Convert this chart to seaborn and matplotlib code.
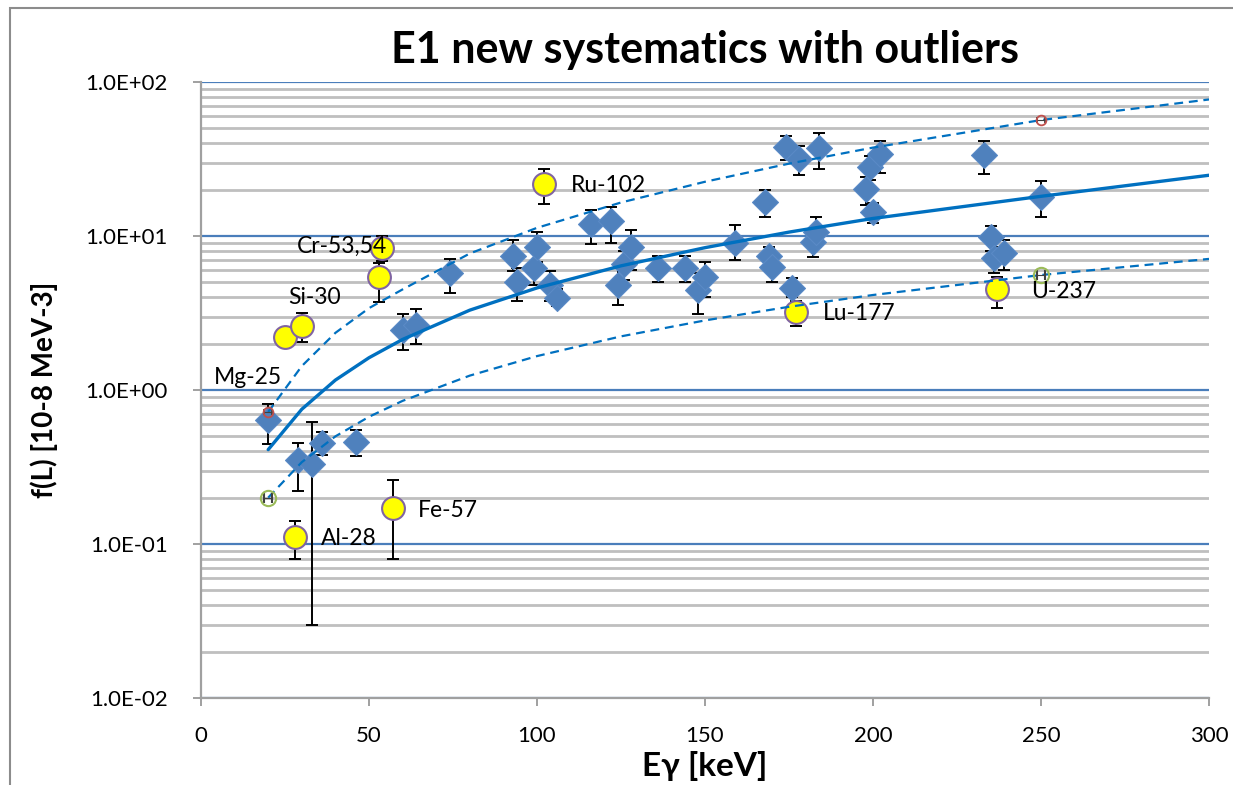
import matplotlib
matplotlib.use("Agg")
import matplotlib.pyplot as plt
from matplotlib.ticker import FixedLocator, FuncFormatter, NullFormatter
from matplotlib.patches import Rectangle
import numpy as np
import pandas as pd
import seaborn as sns

# Systematics data points (E-gamma in keV, f(L) in 1e-8 MeV^-3) with error limits
diamond_e = [20, 29, 33, 36, 46, 60, 64, 74, 93, 94, 99, 100, 104, 106, 116, 122,
             124, 126, 128, 136, 144, 148, 150, 159, 168, 169, 170, 174, 176, 178,
             182, 183, 184, 198, 199, 200, 202, 233, 235, 236, 239, 250]
diamond_f = [0.64, 0.35, 0.33, 0.45, 0.46, 2.45, 2.64, 5.75, 7.4, 5.0, 6.2, 8.5,
             4.8, 3.96, 12.0, 12.5, 4.8, 6.6, 8.5, 6.2, 6.2, 4.46, 5.4, 9.0, 16.6,
             7.4, 6.3, 37.8, 4.6, 31.6, 9.2, 10.6, 37.3, 20.2, 28.1, 14.3, 34.1,
             33.6, 9.86, 7.2, 7.8, 17.9]
diamond_lo = [0.445, 0.22, 0.03, 0.38, 0.37, 1.82, 1.99, 4.26, 5.9, 3.8, 4.8, 6.8,
              3.8, 3.5, 8.9, 9.0, 3.56, 5.2, 6.0, 5.0, 5.0, 3.1, 4.0, 7.0, 13.3,
              6.0, 5.0, 31.2, 4.0, 24.9, 7.3, 8.5, 27.2, 15.9, 23.0, 12.1, 25.6,
              25.3, 8.0, 5.75, 6.0, 13.3]
diamond_hi = [0.81, 0.45, 0.62, 0.53, 0.55, 3.12, 3.36, 7.1, 9.4, 6.2, 8.1, 10.6,
              5.9, 4.5, 14.8, 15.4, 6.2, 8.0, 10.9, 7.4, 7.4, 5.75, 6.8, 11.8, 19.9,
              8.5, 7.5, 44.6, 5.3, 38.4, 11.0, 13.3, 46.7, 24.2, 33.0, 16.4, 41.4,
              41.4, 11.6, 8.5, 9.4, 22.8]

# Outlier nuclei
outlier_e = [25, 30, 53, 54, 102, 177, 237, 28, 57]
outlier_f = [2.21, 2.6, 5.42, 8.36, 21.8, 3.21, 4.53, 0.111, 0.171]
outlier_lo = [1.9, 2.05, 3.72, 6.9, 16.1, 2.6, 3.4, 0.080, 0.080]
outlier_hi = [2.5, 3.16, 6.7, 10.0, 27.2, 3.78, 5.42, 0.141, 0.26]

# Systematics curve and its upper / lower bands
curve_e = [20, 30, 40, 50, 60, 80, 100, 125, 150, 175, 200, 250, 300]
curve_mid = [0.41, 0.75, 1.16, 1.62, 2.13, 3.3, 4.6, 6.4, 8.4, 10.6, 13.0, 18.1, 24.8]
curve_hi = [0.72, 1.43, 2.35, 3.4, 4.5, 7.7, 11.3, 16.5, 22.5, 29.5, 37.5, 56.6, 77.0]
curve_lo = [0.20, 0.34, 0.50, 0.67, 0.85, 1.24, 1.66, 2.23, 2.83, 3.47, 4.14, 5.58, 7.1]

# Band end-point markers
bound_e = [20, 250]
bound_hi = [0.72, 56.6]
bound_lo = [0.20, 5.58]

# Nucleus labels
label_text = ["Mg-25", "Si-30", "Cr-53,54", "Ru-102", "Lu-177", "U-237", "Al-28", "Fe-57"]

x_ticks = [0, 50, 100, 150, 200, 250, 300]
y_ticks = [1e-2, 1e-1, 1e0, 1e1, 1e2]

# label anchor positions in data coordinates (left edge, vertical centre)
label_pos = [(3.9, 1.2), (25.9, 4.0), (28.6, 8.6), (110.1, 21.4),
             (185.1, 3.12), (247.0, 4.33), (35.7, 0.109), (64.6, 0.166)]

sns.set_theme(style="white")
plt.rcParams["font.family"] = ["Lato", "DejaVu Sans"]
plt.rcParams["text.color"] = "black"
plt.rcParams["axes.labelcolor"] = "black"
plt.rcParams["xtick.color"] = "black"
plt.rcParams["ytick.color"] = "black"

DIAMOND = "#4F81BD"
LINE = "#0070C0"
MAJOR = "#4A7EBB"
MINOR = "#BFBFBF"

fig = plt.figure(figsize=(12.33, 7.85), dpi=100)
ax = fig.add_axes([201 / 1233, 1 - 698 / 785, (1209 - 201) / 1233, (698 - 82) / 785])
ax.set_yscale("log")
ax.set_xlim(0, 300)
ax.set_ylim(1e-2, 1e2)

# grid lines
minor_vals = [m * 10.0 ** d for d in range(-2, 2) for m in range(2, 10)]
ax.yaxis.set_major_locator(FixedLocator(y_ticks))
ax.yaxis.set_minor_locator(FixedLocator(minor_vals))
ax.yaxis.set_minor_formatter(NullFormatter())
ax.yaxis.set_major_formatter(FuncFormatter(lambda v, p: f"{v:.1E}"))
ax.xaxis.set_major_locator(FixedLocator(x_ticks))
ax.grid(which="minor", axis="y", color=MINOR, linewidth=2.0, zorder=0)
ax.grid(which="major", axis="y", color=MAJOR, linewidth=1.6, zorder=0)
ax.grid(False, axis="x")
ax.set_axisbelow(True)

for side in ["top", "right"]:
    ax.spines[side].set_visible(False)
for side in ["left", "bottom"]:
    ax.spines[side].set_color("#A0A0A0")
    ax.spines[side].set_linewidth(1.6)

ax.tick_params(axis="both", which="major", direction="out", length=6, width=1.4,
               color="#A0A0A0", labelsize=16, left=True, bottom=True)
ax.tick_params(axis="y", which="major", pad=18)
ax.tick_params(axis="x", which="major", pad=14)
ax.tick_params(axis="y", which="minor", length=0)

# error bars
ax.errorbar(diamond_e, diamond_f,
            yerr=[np.array(diamond_f) - np.array(diamond_lo),
                  np.array(diamond_hi) - np.array(diamond_f)],
            fmt="none", ecolor="black", elinewidth=1.4, capsize=4.5, capthick=1.4, zorder=2)
ax.errorbar(outlier_e, outlier_f,
            yerr=[np.array(outlier_f) - np.array(outlier_lo),
                  np.array(outlier_hi) - np.array(outlier_f)],
            fmt="none", ecolor="black", elinewidth=1.4, capsize=4.5, capthick=1.4, zorder=2)

sns.scatterplot(x=diamond_e, y=diamond_f, marker="D", s=175, color=DIAMOND,
                edgecolor="#5A8AC6", linewidth=0.8, ax=ax, zorder=3)
sns.scatterplot(x=outlier_e, y=outlier_f, marker="o", s=270, color="#FFFF00",
                edgecolor="#8064A2", linewidth=1.5, ax=ax, zorder=4)

curves = pd.DataFrame({"e": curve_e, "mid": curve_mid, "hi": curve_hi, "lo": curve_lo})
sns.lineplot(data=curves, x="e", y="mid", color=LINE, linewidth=2.4, estimator=None,
             ax=ax, zorder=5)
sns.lineplot(data=curves, x="e", y="hi", color=LINE, linewidth=1.6, estimator=None,
             linestyle=(0, (4, 2.6)), ax=ax, zorder=5)
sns.lineplot(data=curves, x="e", y="lo", color=LINE, linewidth=1.6, estimator=None,
             linestyle=(0, (4, 2.6)), ax=ax, zorder=5)

# band end markers
ax.errorbar(bound_e, bound_hi, xerr=1.2, fmt="o", ms=7, mfc="none", mec="#C0504D",
            mew=1.3, ecolor="#404040", elinewidth=0.8, capsize=2.5, zorder=6)
ax.errorbar(bound_e, bound_lo, xerr=1.2, fmt="o", ms=11, mfc="none", mec="#9BBB59",
            mew=1.5, ecolor="#404040", elinewidth=0.8, capsize=3.5, zorder=6)

for txt, (lx, ly) in zip(label_text, label_pos):
    ax.text(lx, ly, txt, ha="left", va="center", fontsize=16.5, color="black", zorder=7)

ax.set_xlabel("E\u03b3 [keV]", fontsize=24, fontweight="bold", labelpad=4)
ax.set_ylabel("f(L) [10-8 MeV-3]", fontsize=20, fontweight="bold", labelpad=20)
ax.set_title("E1 new systematics with outliers", fontsize=31, fontweight="bold", pad=14)

# outer chart border
fig.add_artist(Rectangle((10 / 1233, -0.05), 1.2, 1 - 8 / 785 + 0.05,
                         transform=fig.transFigure, fill=False,
                         edgecolor="#8C8C8C", linewidth=1.5))

fig.savefig("out.png", dpi=100)
